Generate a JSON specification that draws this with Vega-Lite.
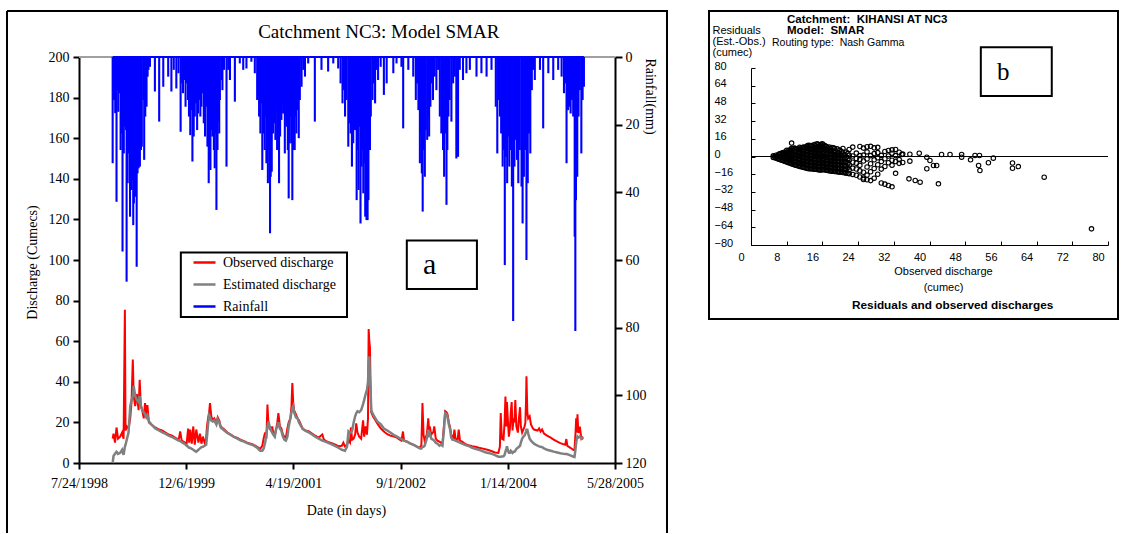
{
  "$schema": "https://vega.github.io/schema/vega-lite/v6.json",
  "background": "white",
  "padding": {"left": 6, "top": 10, "right": 0, "bottom": 0},
  "config": {
    "view": {"stroke": "black", "strokeWidth": 2},
    "axis": {"grid": false, "domainColor": "black", "tickColor": "black", "labelColor": "black", "titleColor": "black", "titleFontWeight": "normal", "labelOverlap": false, "labelFlush": false},
    "title": {"color": "black"}
  },
  "spacing": 42,
  "bounds": "flush",
  "resolve": {"scale": {"color": "independent"}, "legend": {"color": "independent"}},
  "datasets": {
    "q": [
      {"d":"1998-12-28","obs":12,"est":0},{"d":"1999-01-01","obs":14.5,"est":3.5},{"d":"1999-01-08","obs":10,"est":4.5},{"d":"1999-01-15","obs":17.5,"est":5.5},{"d":"1999-01-22","obs":12,"est":4.5},{"d":"1999-02-01","obs":13,"est":5},{"d":"1999-02-10","obs":15,"est":6.5},{"d":"1999-02-17","obs":12,"est":4},{"d":"1999-02-23","obs":75.5,"est":8},{"d":"1999-02-26","obs":16,"est":9},{"d":"1999-03-05","obs":18,"est":12},{"d":"1999-03-12","obs":17,"est":15},{"d":"1999-03-20","obs":22,"est":28},{"d":"1999-03-26","obs":30,"est":31},{"d":"1999-04-01","obs":51,"est":33},{"d":"1999-04-05","obs":33,"est":38},{"d":"1999-04-12","obs":28,"est":33},{"d":"1999-04-20","obs":34,"est":31},{"d":"1999-04-28","obs":26,"est":30},{"d":"1999-05-03","obs":41,"est":33},{"d":"1999-05-08","obs":29,"est":28},{"d":"1999-05-15","obs":26,"est":26},{"d":"1999-05-22","obs":22,"est":25},{"d":"1999-05-28","obs":29.5,"est":24},{"d":"1999-06-03","obs":24,"est":22.5},{"d":"1999-06-08","obs":28.5,"est":23.5},{"d":"1999-06-15","obs":20,"est":20.5},{"d":"1999-07-01","obs":18.5,"est":18.5},{"d":"1999-07-15","obs":17.5,"est":17},{"d":"1999-08-01","obs":16.5,"est":16},{"d":"1999-08-15","obs":16,"est":15.2},{"d":"1999-09-01","obs":15,"est":14.3},{"d":"1999-09-15","obs":14,"est":13.5},{"d":"1999-10-01","obs":13.5,"est":12.8},{"d":"1999-10-15","obs":12.5,"est":12},{"d":"1999-11-01","obs":11.5,"est":11},{"d":"1999-11-08","obs":15.5,"est":10.8},{"d":"1999-11-15","obs":11,"est":10.3},{"d":"1999-12-01","obs":10,"est":9.3},{"d":"1999-12-08","obs":9.5,"est":8.5},{"d":"1999-12-15","obs":17,"est":8},{"d":"1999-12-20","obs":10,"est":7.5},{"d":"1999-12-25","obs":16.5,"est":7.4},{"d":"2000-01-01","obs":9.5,"est":7},{"d":"2000-01-08","obs":18,"est":6.5},{"d":"2000-01-15","obs":9,"est":6},{"d":"2000-01-22","obs":16.5,"est":5.6},{"d":"2000-02-01","obs":10,"est":6.5},{"d":"2000-02-08","obs":14.5,"est":7.2},{"d":"2000-02-15","obs":9.5,"est":7.8},{"d":"2000-02-22","obs":13,"est":8},{"d":"2000-03-01","obs":10,"est":8.5},{"d":"2000-03-08","obs":12,"est":9},{"d":"2000-03-12","obs":18,"est":13},{"d":"2000-03-17","obs":22,"est":19},{"d":"2000-03-22","obs":25,"est":23.5},{"d":"2000-03-26","obs":29.5,"est":22.5},{"d":"2000-04-01","obs":23,"est":21},{"d":"2000-04-08","obs":21,"est":20.5},{"d":"2000-04-15","obs":22,"est":21},{"d":"2000-04-25","obs":20,"est":19},{"d":"2000-05-01","obs":22.5,"est":21.5},{"d":"2000-05-08","obs":21,"est":20},{"d":"2000-05-15","obs":18,"est":17.5},{"d":"2000-06-01","obs":16.5,"est":16},{"d":"2000-06-15","obs":15,"est":14.8},{"d":"2000-07-01","obs":14,"est":13.8},{"d":"2000-07-15","obs":13,"est":12.8},{"d":"2000-08-01","obs":12.3,"est":12},{"d":"2000-08-15","obs":11.5,"est":11.2},{"d":"2000-09-01","obs":10.8,"est":10.5},{"d":"2000-09-15","obs":10,"est":9.8},{"d":"2000-10-01","obs":9.5,"est":9.2},{"d":"2000-10-15","obs":9,"est":8.7},{"d":"2000-11-01","obs":8,"est":7.5},{"d":"2000-11-15","obs":7,"est":6},{"d":"2000-11-25","obs":8.5,"est":6},{"d":"2000-12-01","obs":12,"est":7},{"d":"2000-12-08","obs":15,"est":10},{"d":"2000-12-14","obs":12,"est":14},{"d":"2000-12-19","obs":28.8,"est":18},{"d":"2000-12-24","obs":18,"est":20.5},{"d":"2000-12-29","obs":17,"est":18},{"d":"2001-01-05","obs":16,"est":16},{"d":"2001-01-10","obs":18,"est":15},{"d":"2001-01-15","obs":15,"est":14},{"d":"2001-01-22","obs":13.5,"est":13},{"d":"2001-01-29","obs":17,"est":17},{"d":"2001-02-03","obs":20,"est":18},{"d":"2001-02-08","obs":24.6,"est":20},{"d":"2001-02-15","obs":18,"est":17},{"d":"2001-02-22","obs":17,"est":15.8},{"d":"2001-03-01","obs":14,"est":13},{"d":"2001-03-08","obs":13,"est":11.5},{"d":"2001-03-15","obs":12.5,"est":11},{"d":"2001-03-22","obs":17,"est":13},{"d":"2001-03-28","obs":20,"est":18},{"d":"2001-04-01","obs":21,"est":20},{"d":"2001-04-05","obs":22,"est":22},{"d":"2001-04-10","obs":28,"est":25},{"d":"2001-04-14","obs":39.4,"est":27},{"d":"2001-04-18","obs":30,"est":28},{"d":"2001-04-22","obs":26,"est":25},{"d":"2001-05-01","obs":24,"est":22.5},{"d":"2001-05-08","obs":22,"est":22},{"d":"2001-05-15","obs":21,"est":20},{"d":"2001-06-01","obs":17,"est":16.8},{"d":"2001-06-15","obs":16,"est":15.8},{"d":"2001-07-01","obs":15.5,"est":15},{"d":"2001-07-15","obs":14.5,"est":14},{"d":"2001-08-01","obs":13.3,"est":12.8},{"d":"2001-08-15","obs":12.5,"est":12},{"d":"2001-09-01","obs":14,"est":11},{"d":"2001-09-08","obs":11.5,"est":10.8},{"d":"2001-09-15","obs":11,"est":10.5},{"d":"2001-10-01","obs":10.2,"est":9.8},{"d":"2001-10-15","obs":9.7,"est":9.2},{"d":"2001-11-01","obs":9,"est":8.3},{"d":"2001-11-15","obs":8.3,"est":7.5},{"d":"2001-12-01","obs":8.5,"est":6.5},{"d":"2001-12-08","obs":10,"est":6.3},{"d":"2001-12-15","obs":8.2,"est":6},{"d":"2001-12-25","obs":9,"est":8},{"d":"2002-01-01","obs":11,"est":15.5},{"d":"2002-01-08","obs":10,"est":14.8},{"d":"2002-01-12","obs":17.5,"est":15},{"d":"2002-01-18","obs":11.5,"est":16},{"d":"2002-01-25","obs":12,"est":20},{"d":"2002-02-01","obs":14,"est":23},{"d":"2002-02-06","obs":19.5,"est":24.5},{"d":"2002-02-12","obs":15,"est":25.5},{"d":"2002-02-20","obs":13,"est":25},{"d":"2002-03-01","obs":12,"est":26},{"d":"2002-03-10","obs":21,"est":29},{"d":"2002-03-15","obs":13,"est":31},{"d":"2002-03-22","obs":18,"est":34},{"d":"2002-03-28","obs":14,"est":36},{"d":"2002-04-02","obs":22,"est":40},{"d":"2002-04-05","obs":66,"est":48},{"d":"2002-04-08","obs":60,"est":52.5},{"d":"2002-04-11","obs":57,"est":40},{"d":"2002-04-14","obs":38,"est":36},{"d":"2002-04-17","obs":25,"est":26},{"d":"2002-04-25","obs":23,"est":24},{"d":"2002-05-01","obs":22,"est":23},{"d":"2002-05-15","obs":19.5,"est":20.5},{"d":"2002-06-01","obs":17,"est":19},{"d":"2002-06-15","obs":15.5,"est":17},{"d":"2002-07-01","obs":14.2,"est":16},{"d":"2002-07-15","obs":13.5,"est":15},{"d":"2002-08-01","obs":13,"est":13.8},{"d":"2002-08-15","obs":12.5,"est":13},{"d":"2002-08-28","obs":11.5,"est":12.2},{"d":"2002-09-05","obs":11,"est":11.8},{"d":"2002-09-12","obs":15.5,"est":11.3},{"d":"2002-09-17","obs":11,"est":11},{"d":"2002-10-01","obs":10.5,"est":10.5},{"d":"2002-10-15","obs":9.7,"est":9.7},{"d":"2002-11-01","obs":8.9,"est":8.9},{"d":"2002-11-15","obs":8.2,"est":8.1},{"d":"2002-12-01","obs":7.5,"est":7.2},{"d":"2002-12-07","obs":9,"est":7.2},{"d":"2002-12-12","obs":29.6,"est":8},{"d":"2002-12-17","obs":14,"est":8},{"d":"2002-12-22","obs":11,"est":8.5},{"d":"2003-01-01","obs":14,"est":12},{"d":"2003-01-05","obs":18,"est":14},{"d":"2003-01-08","obs":22,"est":16.4},{"d":"2003-01-12","obs":16,"est":14},{"d":"2003-01-15","obs":18,"est":14.5},{"d":"2003-01-22","obs":14,"est":12},{"d":"2003-02-01","obs":15.4,"est":11.3},{"d":"2003-02-05","obs":18,"est":11},{"d":"2003-02-12","obs":12,"est":10},{"d":"2003-02-20","obs":11,"est":9.5},{"d":"2003-03-01","obs":10.5,"est":8.5},{"d":"2003-03-08","obs":10,"est":9},{"d":"2003-03-15","obs":9.5,"est":8.5},{"d":"2003-03-22","obs":18,"est":16},{"d":"2003-03-28","obs":25.5,"est":24.5},{"d":"2003-04-03","obs":25,"est":24},{"d":"2003-04-08","obs":24,"est":22.5},{"d":"2003-04-14","obs":20,"est":19},{"d":"2003-04-20","obs":17.5,"est":16.5},{"d":"2003-04-25","obs":14,"est":12.5},{"d":"2003-05-01","obs":13,"est":11.5},{"d":"2003-05-06","obs":12.5,"est":11.5},{"d":"2003-05-10","obs":16.5,"est":11.3},{"d":"2003-05-15","obs":12,"est":11},{"d":"2003-05-25","obs":11.5,"est":10.5},{"d":"2003-05-30","obs":16.5,"est":10.3},{"d":"2003-06-05","obs":11,"est":10},{"d":"2003-06-15","obs":10.5,"est":9.5},{"d":"2003-07-01","obs":9.2,"est":8.8},{"d":"2003-07-15","obs":8.8,"est":8.4},{"d":"2003-08-01","obs":8.3,"est":7.5},{"d":"2003-08-15","obs":8,"est":7},{"d":"2003-09-01","obs":7.5,"est":6.5},{"d":"2003-09-15","obs":7.2,"est":6},{"d":"2003-10-01","obs":6.8,"est":5.3},{"d":"2003-10-15","obs":6.4,"est":4.9},{"d":"2003-11-01","obs":5.8,"est":4.5},{"d":"2003-11-15","obs":5.2,"est":3.9},{"d":"2003-12-01","obs":5,"est":3.1},{"d":"2003-12-08","obs":8,"est":3.1},{"d":"2003-12-12","obs":24.6,"est":3.1},{"d":"2003-12-17","obs":12,"est":3.2},{"d":"2003-12-25","obs":11.5,"est":3.3},{"d":"2003-12-30","obs":20,"est":4},{"d":"2004-01-03","obs":32.8,"est":5.6},{"d":"2004-01-07","obs":18,"est":7},{"d":"2004-01-10","obs":30,"est":8.2},{"d":"2004-01-15","obs":20,"est":6},{"d":"2004-01-19","obs":13,"est":5},{"d":"2004-01-24","obs":17,"est":5},{"d":"2004-01-28","obs":25,"est":6},{"d":"2004-02-01","obs":30,"est":5.5},{"d":"2004-02-05","obs":16,"est":5},{"d":"2004-02-10","obs":22,"est":5.5},{"d":"2004-02-14","obs":20,"est":5.5},{"d":"2004-02-18","obs":31,"est":6},{"d":"2004-02-23","obs":18,"est":7},{"d":"2004-03-01","obs":15,"est":7.5},{"d":"2004-03-06","obs":22,"est":8},{"d":"2004-03-11","obs":27.5,"est":8.5},{"d":"2004-03-15","obs":18,"est":10},{"d":"2004-03-21","obs":15,"est":12},{"d":"2004-03-27","obs":16.5,"est":13},{"d":"2004-04-01","obs":18,"est":13.5},{"d":"2004-04-05","obs":20,"est":14.5},{"d":"2004-04-08","obs":30,"est":15.5},{"d":"2004-04-10","obs":42.7,"est":16.4},{"d":"2004-04-14","obs":25,"est":16.4},{"d":"2004-04-18","obs":22,"est":14.6},{"d":"2004-04-25","obs":23,"est":12},{"d":"2004-05-01","obs":19,"est":11},{"d":"2004-05-10","obs":17,"est":10},{"d":"2004-05-15","obs":16.5,"est":9.5},{"d":"2004-06-01","obs":16,"est":8.5},{"d":"2004-06-08","obs":17,"est":8.2},{"d":"2004-06-15","obs":15.5,"est":8},{"d":"2004-06-22","obs":16.5,"est":7.8},{"d":"2004-07-01","obs":14.5,"est":7.2},{"d":"2004-07-15","obs":13.5,"est":6.5},{"d":"2004-08-01","obs":12.5,"est":6},{"d":"2004-08-15","obs":11.5,"est":5.6},{"d":"2004-09-01","obs":10.5,"est":5.2},{"d":"2004-09-15","obs":9.8,"est":4.8},{"d":"2004-10-01","obs":9.2,"est":4.5},{"d":"2004-10-08","obs":9,"est":4.4},{"d":"2004-10-13","obs":11.8,"est":4.4},{"d":"2004-10-18","obs":8.4,"est":4.3},{"d":"2004-11-01","obs":7.5,"est":3.8},{"d":"2004-11-15","obs":6.4,"est":3.1},{"d":"2004-11-20","obs":6.5,"est":3},{"d":"2004-11-25","obs":15,"est":7},{"d":"2004-11-28","obs":22,"est":10},{"d":"2004-12-01","obs":15,"est":12},{"d":"2004-12-04","obs":24,"est":13},{"d":"2004-12-08","obs":14.8,"est":12.5},{"d":"2004-12-15","obs":17.9,"est":13},{"d":"2004-12-22","obs":12,"est":12.5},{"d":"2004-12-30","obs":13,"est":11.5}
    ],
    "rain": [
      {"d":"1998-12-28","r":31.4},{"d":"1999-01-03","r":12.7},{"d":"1999-01-09","r":16.6},{"d":"1999-01-15","r":42.8},{"d":"1999-01-20","r":9.8},{"d":"1999-01-23","r":16.2},{"d":"1999-01-28","r":10.7},{"d":"1999-02-03","r":27.5},{"d":"1999-02-07","r":22.6},{"d":"1999-02-12","r":57.5},{"d":"1999-02-18","r":28.5},{"d":"1999-02-23","r":20.6},{"d":"1999-02-28","r":21.6},{"d":"1999-03-03","r":66.4},{"d":"1999-03-08","r":37.3},{"d":"1999-03-11","r":28.5},{"d":"1999-03-15","r":23.5},{"d":"1999-03-19","r":47.2},{"d":"1999-03-23","r":32.4},{"d":"1999-03-26","r":39.3},{"d":"1999-03-31","r":36.4},{"d":"1999-04-03","r":49.7},{"d":"1999-04-06","r":43.3},{"d":"1999-04-11","r":41.3},{"d":"1999-04-15","r":35.4},{"d":"1999-04-19","r":62},{"d":"1999-04-23","r":34.4},{"d":"1999-04-28","r":32.9},{"d":"1999-05-04","r":32.4},{"d":"1999-05-09","r":27.5},{"d":"1999-05-13","r":26.5},{"d":"1999-05-20","r":12.7},{"d":"1999-05-24","r":30.4},{"d":"1999-05-29","r":17.6},{"d":"1999-06-04","r":14.7},{"d":"1999-06-09","r":5.8},{"d":"1999-06-13","r":3.8},{"d":"1999-06-20","r":2.9},
      {"d":"1999-07-13","r":10.2},{"d":"1999-08-02","r":19.1},{"d":"1999-08-21","r":8.8},{"d":"1999-09-13","r":5.8},{"d":"1999-09-28","r":10.2},{"d":"1999-10-09","r":3.8},{"d":"1999-10-21","r":9.3},{"d":"1999-10-31","r":4.8},
      {"d":"1999-11-10","r":22.1},{"d":"1999-11-17","r":7.8},{"d":"1999-11-21","r":10.7},{"d":"1999-11-27","r":6.8},{"d":"1999-12-03","r":14.7},{"d":"1999-12-10","r":7.8},{"d":"1999-12-14","r":12.7},{"d":"1999-12-19","r":17.6},{"d":"1999-12-25","r":23.1},{"d":"1999-12-30","r":15.7},{"d":"2000-01-04","r":30.9},{"d":"2000-01-10","r":23.5},{"d":"2000-01-15","r":17.6},{"d":"2000-01-21","r":13.7},{"d":"2000-01-26","r":21.6},{"d":"2000-01-30","r":16.7},{"d":"2000-02-04","r":12.7},{"d":"2000-02-10","r":17.6},{"d":"2000-02-15","r":14.7},{"d":"2000-02-19","r":10.7},{"d":"2000-02-26","r":19.6},{"d":"2000-03-03","r":23.5},{"d":"2000-03-09","r":14.7},{"d":"2000-03-14","r":26.5},{"d":"2000-03-20","r":37.3},{"d":"2000-03-25","r":30.4},{"d":"2000-03-28","r":33.4},{"d":"2000-04-02","r":21.6},{"d":"2000-04-06","r":23.5},{"d":"2000-04-13","r":27.5},{"d":"2000-04-17","r":32.9},{"d":"2000-04-22","r":22.6},{"d":"2000-04-25","r":45.2},{"d":"2000-04-30","r":27.5},{"d":"2000-05-03","r":19.1},{"d":"2000-05-08","r":22.6},{"d":"2000-05-11","r":12.7},{"d":"2000-05-19","r":6.8},{"d":"2000-05-23","r":9.8},{"d":"2000-05-30","r":3.8},{"d":"2000-06-11","r":32.4},{"d":"2000-06-19","r":3.8},{"d":"2000-06-27","r":6.8},
      {"d":"2000-07-20","r":13.2},{"d":"2000-08-12","r":1.9},{"d":"2000-08-28","r":3.8},{"d":"2000-09-12","r":3.4},{"d":"2000-10-05","r":1.4},{"d":"2000-10-21","r":4.8},
      {"d":"2000-11-01","r":12.7},{"d":"2000-11-05","r":11.2},{"d":"2000-11-10","r":17.6},{"d":"2000-11-16","r":22.6},{"d":"2000-11-21","r":13.7},{"d":"2000-11-25","r":33.4},{"d":"2000-11-30","r":22.6},{"d":"2000-12-06","r":27.5},{"d":"2000-12-11","r":17.6},{"d":"2000-12-14","r":31.4},{"d":"2000-12-18","r":22.6},{"d":"2000-12-21","r":37.3},{"d":"2000-12-26","r":27.5},{"d":"2000-12-31","r":52.1},{"d":"2001-01-03","r":35.4},{"d":"2001-01-08","r":33.9},{"d":"2001-01-14","r":22.6},{"d":"2001-01-20","r":19.6},{"d":"2001-01-25","r":24.5},{"d":"2001-01-30","r":15.7},{"d":"2001-02-02","r":27.5},{"d":"2001-02-06","r":21.6},{"d":"2001-02-11","r":37.3},{"d":"2001-02-16","r":23.5},{"d":"2001-02-22","r":18.6},{"d":"2001-02-27","r":13.7},{"d":"2001-03-02","r":16.7},{"d":"2001-03-10","r":28.5},{"d":"2001-03-14","r":17.6},{"d":"2001-03-17","r":20.6},{"d":"2001-03-24","r":27.5},{"d":"2001-03-28","r":41.8},{"d":"2001-04-02","r":25.5},{"d":"2001-04-05","r":17.6},{"d":"2001-04-10","r":25.5},{"d":"2001-04-14","r":42.3},{"d":"2001-04-19","r":27.5},{"d":"2001-04-25","r":27.5},{"d":"2001-04-30","r":17.6},{"d":"2001-05-03","r":22.6},{"d":"2001-05-09","r":15.7},{"d":"2001-05-14","r":24},{"d":"2001-05-19","r":12.7},{"d":"2001-05-27","r":8.8},{"d":"2001-06-04","r":3.8},{"d":"2001-06-12","r":5.8},
      {"d":"2001-06-27","r":1.9},{"d":"2001-07-28","r":19.1},{"d":"2001-08-28","r":3.8},{"d":"2001-09-28","r":4.3},{"d":"2001-10-22","r":1.9},{"d":"2001-11-14","r":3.4},
      {"d":"2001-11-25","r":7.8},{"d":"2001-12-04","r":13.7},{"d":"2001-12-10","r":9.8},{"d":"2001-12-16","r":17.6},{"d":"2001-12-23","r":12.7},{"d":"2001-12-31","r":26.5},{"d":"2002-01-04","r":19.6},{"d":"2002-01-11","r":22.6},{"d":"2002-01-17","r":32.4},{"d":"2002-01-23","r":25.5},{"d":"2002-01-31","r":21.6},{"d":"2002-02-08","r":42.3},{"d":"2002-02-13","r":27.5},{"d":"2002-02-17","r":39.3},{"d":"2002-02-22","r":20.6},{"d":"2002-02-26","r":49.2},{"d":"2002-03-03","r":32.4},{"d":"2002-03-08","r":27.5},{"d":"2002-03-11","r":40.3},{"d":"2002-03-15","r":31.4},{"d":"2002-03-20","r":47.2},{"d":"2002-03-26","r":48.2},{"d":"2002-03-31","r":48.2},{"d":"2002-04-04","r":42.3},{"d":"2002-04-11","r":27.5},{"d":"2002-04-15","r":17.6},{"d":"2002-04-23","r":12.7},{"d":"2002-04-29","r":7.8},{"d":"2002-05-05","r":13.7},{"d":"2002-05-11","r":3.8},{"d":"2002-05-19","r":6.8},{"d":"2002-05-31","r":2.9},{"d":"2002-06-15","r":11.2},{"d":"2002-06-28","r":7.8},
      {"d":"2002-07-29","r":4.8},{"d":"2002-08-13","r":1.9},{"d":"2002-09-05","r":2.9},{"d":"2002-09-13","r":21.1},{"d":"2002-10-07","r":3.8},{"d":"2002-10-30","r":5.8},
      {"d":"2002-11-11","r":12.7},{"d":"2002-11-17","r":7.8},{"d":"2002-11-23","r":15.7},{"d":"2002-11-30","r":31.4},{"d":"2002-12-04","r":22.6},{"d":"2002-12-09","r":34.4},{"d":"2002-12-13","r":45.7},{"d":"2002-12-18","r":27.5},{"d":"2002-12-23","r":35.4},{"d":"2002-12-27","r":21.6},{"d":"2003-01-03","r":24.5},{"d":"2003-01-07","r":17.6},{"d":"2003-01-12","r":23.5},{"d":"2003-01-18","r":14.7},{"d":"2003-01-24","r":7.8},{"d":"2003-01-30","r":12.7},{"d":"2003-02-07","r":5.8},{"d":"2003-02-15","r":9.8},{"d":"2003-02-23","r":3.8},{"d":"2003-03-03","r":17.6},{"d":"2003-03-10","r":22.6},{"d":"2003-03-18","r":27.5},{"d":"2003-03-23","r":35.4},{"d":"2003-03-27","r":22.6},{"d":"2003-04-03","r":43.7},{"d":"2003-04-07","r":27.5},{"d":"2003-04-12","r":17.6},{"d":"2003-04-18","r":12.7},{"d":"2003-04-26","r":19.1},{"d":"2003-05-04","r":7.8},{"d":"2003-05-12","r":5.8},{"d":"2003-05-19","r":30},{"d":"2003-05-27","r":29.5},{"d":"2003-06-04","r":3.8},{"d":"2003-06-19","r":6.8},
      {"d":"2003-07-05","r":4.8},{"d":"2003-07-21","r":3.8},{"d":"2003-08-21","r":5.8},{"d":"2003-09-13","r":4.8},{"d":"2003-10-07","r":5.8},{"d":"2003-10-30","r":3.8},
      {"d":"2003-11-19","r":14.7},{"d":"2003-11-26","r":28.5},{"d":"2003-12-02","r":12.7},{"d":"2003-12-08","r":17.6},{"d":"2003-12-14","r":22.6},{"d":"2003-12-21","r":32.4},{"d":"2003-12-27","r":27.5},{"d":"2003-12-31","r":61.5},{"d":"2004-01-05","r":29.5},{"d":"2004-01-11","r":37.3},{"d":"2004-01-16","r":23.5},{"d":"2004-01-21","r":32.4},{"d":"2004-01-27","r":27.5},{"d":"2004-02-02","r":38.3},{"d":"2004-02-08","r":78},{"d":"2004-02-14","r":32.4},{"d":"2004-02-20","r":24.5},{"d":"2004-02-26","r":30.4},{"d":"2004-03-03","r":37.3},{"d":"2004-03-10","r":27.5},{"d":"2004-03-18","r":38.3},{"d":"2004-03-23","r":49.2},{"d":"2004-03-29","r":35.4},{"d":"2004-04-04","r":27.5},{"d":"2004-04-10","r":60},{"d":"2004-04-16","r":37.3},{"d":"2004-04-22","r":22.6},{"d":"2004-04-28","r":28.5},{"d":"2004-05-05","r":9.8},{"d":"2004-05-11","r":3.8},{"d":"2004-05-19","r":6.8},
      {"d":"2004-06-12","r":3.8},{"d":"2004-06-27","r":21.1},{"d":"2004-07-21","r":4.8},{"d":"2004-08-13","r":6.8},{"d":"2004-09-05","r":3.8},{"d":"2004-09-21","r":5.8},
      {"d":"2004-10-02","r":10.7},{"d":"2004-10-08","r":7.8},{"d":"2004-10-14","r":31.4},{"d":"2004-10-21","r":15.7},{"d":"2004-10-27","r":14.7},{"d":"2004-11-02","r":16.7},{"d":"2004-11-08","r":12.7},{"d":"2004-11-14","r":17.6},{"d":"2004-11-21","r":53.1},{"d":"2004-11-24","r":81},{"d":"2004-11-27","r":42.3},{"d":"2004-12-03","r":35.4},{"d":"2004-12-09","r":17.6},{"d":"2004-12-15","r":9.8},{"d":"2004-12-22","r":28.5},{"d":"2004-12-28","r":12.7},{"d":"2005-01-03","r":8.8}
    ],
    "res": [
      {"obs":5.0,"res":-0.8},{"obs":5.0,"res":0.6},{"obs":5.6,"res":-1.5},{"obs":5.6,"res":1.2},{"obs":6.2,"res":-2.4},{"obs":6.2,"res":0.3},{"obs":6.2,"res":2.1},{"obs":6.8,"res":-3.1},{"obs":6.8,"res":-0.6},{"obs":6.8,"res":2.8},{"obs":7.4,"res":-4.0},{"obs":7.4,"res":-1.2},{"obs":7.4,"res":1.5},{"obs":7.4,"res":3.9},{"obs":8.0,"res":-4.9},{"obs":8.0,"res":-2.2},{"obs":8.0,"res":0.8},{"obs":8.0,"res":3.6},{"obs":8.0,"res":5.7},{"obs":8.6,"res":-5.8},{"obs":8.6,"res":-3.0},{"obs":8.6,"res":-0.1},{"obs":8.6,"res":2.7},{"obs":8.6,"res":5.9},{"obs":9.1,"res":12.1},{"obs":9.1,"res":-6.6},{"obs":9.1,"res":-3.6},{"obs":9.1,"res":-0.9},{"obs":9.1,"res":2.2},{"obs":9.1,"res":5.2},{"obs":9.1,"res":7.4},{"obs":9.7,"res":-7.4},{"obs":9.7,"res":-4.3},{"obs":9.7,"res":-1.5},{"obs":9.7,"res":1.6},{"obs":9.7,"res":4.6},{"obs":9.7,"res":7.6},{"obs":10.3,"res":-8.1},{"obs":10.3,"res":-5.2},{"obs":10.3,"res":-2.1},{"obs":10.3,"res":0.9},{"obs":10.3,"res":3.8},{"obs":10.3,"res":6.9},{"obs":10.9,"res":-8.9},{"obs":10.9,"res":-6.0},{"obs":10.9,"res":-3.0},{"obs":10.9,"res":0.2},{"obs":10.9,"res":3.1},{"obs":10.9,"res":6.2},{"obs":10.9,"res":8.4},{"obs":11.5,"res":-9.4},{"obs":11.5,"res":-6.4},{"obs":11.5,"res":-3.5},{"obs":11.5,"res":-0.4},{"obs":11.5,"res":2.6},{"obs":11.5,"res":5.5},{"obs":11.5,"res":8.2},{"obs":12.1,"res":-10.2},{"obs":12.1,"res":-7.1},{"obs":12.1,"res":-4.2},{"obs":12.1,"res":-1.2},{"obs":12.1,"res":1.9},{"obs":12.1,"res":4.8},{"obs":12.1,"res":7.9},{"obs":12.7,"res":-10.8},{"obs":12.7,"res":-7.7},{"obs":12.7,"res":-4.6},{"obs":12.7,"res":-1.6},{"obs":12.7,"res":1.4},{"obs":12.7,"res":4.5},{"obs":12.7,"res":7.4},{"obs":12.7,"res":9.8},{"obs":13.3,"res":-11.0},{"obs":13.3,"res":-8.2},{"obs":13.3,"res":-5.0},{"obs":13.3,"res":-2.1},{"obs":13.3,"res":1.0},{"obs":13.3,"res":3.9},{"obs":13.3,"res":6.8},{"obs":13.3,"res":9.6},{"obs":13.9,"res":-11.3},{"obs":13.9,"res":-8.4},{"obs":13.9,"res":-5.5},{"obs":13.9,"res":-2.5},{"obs":13.9,"res":0.6},{"obs":13.9,"res":3.5},{"obs":13.9,"res":6.6},{"obs":13.9,"res":9.4},{"obs":14.5,"res":-11.6},{"obs":14.5,"res":-8.8},{"obs":14.5,"res":-5.8},{"obs":14.5,"res":-2.8},{"obs":14.5,"res":0.3},{"obs":14.5,"res":3.2},{"obs":14.5,"res":6.1},{"obs":14.5,"res":9.7},{"obs":15.1,"res":-12.0},{"obs":15.1,"res":-9.0},{"obs":15.1,"res":-6.1},{"obs":15.1,"res":-3.0},{"obs":15.1,"res":0.1},{"obs":15.1,"res":2.9},{"obs":15.1,"res":5.9},{"obs":15.1,"res":8.7},{"obs":15.1,"res":10.8},{"obs":15.7,"res":-12.2},{"obs":15.7,"res":-9.3},{"obs":15.7,"res":-6.4},{"obs":15.7,"res":-3.3},{"obs":15.7,"res":-0.2},{"obs":15.7,"res":2.7},{"obs":15.7,"res":5.6},{"obs":15.7,"res":8.5},{"obs":15.7,"res":11.0},{"obs":16.3,"res":-11.8},{"obs":16.3,"res":-8.7},{"obs":16.3,"res":-5.7},{"obs":16.3,"res":-2.6},{"obs":16.3,"res":0.4},{"obs":16.3,"res":3.5},{"obs":16.3,"res":7.8},{"obs":16.3,"res":10.4},{"obs":16.9,"res":-12.5},{"obs":16.9,"res":-9.6},{"obs":16.9,"res":-6.6},{"obs":16.9,"res":-3.4},{"obs":16.9,"res":-0.3},{"obs":16.9,"res":2.8},{"obs":16.9,"res":6.0},{"obs":16.9,"res":9.1},{"obs":17.5,"res":-12.9},{"obs":17.5,"res":-9.9},{"obs":17.5,"res":-6.8},{"obs":17.5,"res":-3.8},{"obs":17.5,"res":-0.6},{"obs":17.5,"res":2.4},{"obs":17.5,"res":5.4},{"obs":17.5,"res":8.6},{"obs":18.1,"res":-13.2},{"obs":18.1,"res":-10.1},{"obs":18.1,"res":-7.0},{"obs":18.1,"res":-4.0},{"obs":18.1,"res":-1.1},{"obs":18.1,"res":2.0},{"obs":18.1,"res":4.9},{"obs":18.1,"res":8.2},{"obs":18.7,"res":-13.5},{"obs":18.7,"res":-10.4},{"obs":18.7,"res":-7.4},{"obs":18.7,"res":-4.3},{"obs":18.7,"res":-1.4},{"obs":18.7,"res":1.6},{"obs":18.7,"res":7.5},{"obs":19.3,"res":-13.8},{"obs":19.3,"res":-10.6},{"obs":19.3,"res":-7.6},{"obs":19.3,"res":-4.4},{"obs":19.3,"res":-1.5},{"obs":19.3,"res":1.3},{"obs":19.3,"res":6.9},{"obs":19.9,"res":-14.1},{"obs":19.9,"res":-11.0},{"obs":19.9,"res":-7.8},{"obs":19.9,"res":-4.8},{"obs":19.9,"res":-1.7},{"obs":19.9,"res":0.9},{"obs":19.9,"res":5.8},{"obs":20.6,"res":-14.5},{"obs":20.6,"res":-11.5},{"obs":20.6,"res":-8.2},{"obs":20.6,"res":-5.0},{"obs":20.6,"res":-2.0},{"obs":20.6,"res":2.3},{"obs":20.6,"res":7.2},{"obs":21.3,"res":-15.0},{"obs":21.3,"res":-11.8},{"obs":21.3,"res":-8.5},{"obs":21.3,"res":-4.5},{"obs":21.3,"res":-1.0},{"obs":21.3,"res":4.0},{"obs":22.0,"res":-15.5},{"obs":22.0,"res":-12.0},{"obs":22.0,"res":-7.6},{"obs":22.0,"res":-3.4},{"obs":22.0,"res":1.2},{"obs":22.0,"res":6.4},{"obs":22.8,"res":-16.2},{"obs":22.8,"res":-10.5},{"obs":22.8,"res":-5.2},{"obs":22.8,"res":0.5},{"obs":22.8,"res":8.5},{"obs":23.6,"res":-17.0},{"obs":23.6,"res":-11.3},{"obs":23.6,"res":-6.0},{"obs":23.6,"res":-1.8},{"obs":23.6,"res":3.1},{"obs":24.4,"res":-18.5},{"obs":24.4,"res":-13.0},{"obs":24.4,"res":-8.0},{"obs":24.4,"res":-2.6},{"obs":24.4,"res":0.8},{"obs":24.4,"res":9.0},{"obs":25.2,"res":-19.5},{"obs":25.2,"res":-20.8},{"obs":25.2,"res":-14.2},{"obs":25.2,"res":-4.1},{"obs":25.2,"res":1.3},{"obs":25.2,"res":7.6},{"obs":26.0,"res":-21.0},{"obs":26.0,"res":-16.8},{"obs":26.0,"res":-9.5},{"obs":26.0,"res":-2.2},{"obs":26.0,"res":4.2},{"obs":26.0,"res":8.8},{"obs":26.8,"res":-21.8},{"obs":26.8,"res":-13.8},{"obs":26.8,"res":-6.5},{"obs":26.8,"res":0.8},{"obs":26.8,"res":9.2},{"obs":27.6,"res":-19.6},{"obs":27.6,"res":-10.8},{"obs":27.6,"res":-3.0},{"obs":27.6,"res":2.6},{"obs":27.6,"res":7.8},{"obs":28.4,"res":-16.0},{"obs":28.4,"res":-7.5},{"obs":28.4,"res":-1.2},{"obs":28.4,"res":3.5},{"obs":28.4,"res":8.3},{"obs":29.2,"res":-24.0},{"obs":29.2,"res":-11.4},{"obs":29.2,"res":-4.6},{"obs":29.2,"res":1.0},{"obs":30.0,"res":-25.0},{"obs":30.0,"res":-9.0},{"obs":30.0,"res":-2.0},{"obs":30.0,"res":4.6},{"obs":30.8,"res":-26.2},{"obs":30.8,"res":-5.6},{"obs":30.8,"res":0.5},{"obs":30.8,"res":5.5},{"obs":31.6,"res":-27.4},{"obs":31.6,"res":-7.8},{"obs":31.6,"res":-3.4},{"obs":31.6,"res":3.0},{"obs":31.6,"res":6.0},{"obs":32.4,"res":-15.2},{"obs":32.4,"res":-4.5},{"obs":32.4,"res":0.8},{"obs":32.4,"res":6.4},{"obs":33.2,"res":-6.2},{"obs":33.2,"res":-2.8},{"obs":33.2,"res":3.8},{"obs":34.0,"res":-5.4},{"obs":34.0,"res":2.2},
      {"obs":5.3,"res":-0.2},{"obs":5.9,"res":-1.9},{"obs":5.9,"res":0.6},{"obs":6.5,"res":-2.8},{"obs":6.5,"res":-0.2},{"obs":6.5,"res":2.4},{"obs":7.1,"res":-3.6},{"obs":7.1,"res":-1.0},{"obs":7.1,"res":1.6},{"obs":7.1,"res":3.4},{"obs":7.7,"res":-4.5},{"obs":7.7,"res":-1.8},{"obs":7.7,"res":0.9},{"obs":7.7,"res":3.3},{"obs":8.3,"res":-5.4},{"obs":8.3,"res":-2.6},{"obs":8.3,"res":0.3},{"obs":8.3,"res":3.2},{"obs":8.3,"res":5.1},{"obs":8.9,"res":-6.2},{"obs":8.9,"res":-3.3},{"obs":8.9,"res":-0.4},{"obs":8.9,"res":2.4},{"obs":8.9,"res":5.4},{"obs":9.4,"res":-7.0},{"obs":9.4,"res":-4.1},{"obs":9.4,"res":-1.2},{"obs":9.4,"res":1.7},{"obs":9.4,"res":4.7},{"obs":9.4,"res":6.9},{"obs":10.0,"res":-7.8},{"obs":10.0,"res":-4.8},{"obs":10.0,"res":-1.8},{"obs":10.0,"res":1.2},{"obs":10.0,"res":4.2},{"obs":10.0,"res":7.2},{"obs":10.6,"res":-8.5},{"obs":10.6,"res":-5.6},{"obs":10.6,"res":-2.5},{"obs":10.6,"res":0.5},{"obs":10.6,"res":3.5},{"obs":10.6,"res":6.6},{"obs":11.2,"res":-9.2},{"obs":11.2,"res":-6.2},{"obs":11.2,"res":-3.2},{"obs":11.2,"res":-0.2},{"obs":11.2,"res":2.9},{"obs":11.2,"res":5.8},{"obs":11.2,"res":7.9},{"obs":11.8,"res":-9.8},{"obs":11.8,"res":-6.8},{"obs":11.8,"res":-3.9},{"obs":11.8,"res":-0.8},{"obs":11.8,"res":2.2},{"obs":11.8,"res":5.2},{"obs":11.8,"res":8.5},{"obs":12.4,"res":-10.5},{"obs":12.4,"res":-7.4},{"obs":12.4,"res":-4.4},{"obs":12.4,"res":-1.4},{"obs":12.4,"res":1.6},{"obs":12.4,"res":4.6},{"obs":12.4,"res":7.6},{"obs":12.4,"res":9.1},{"obs":13.0,"res":-11.0},{"obs":13.0,"res":-7.9},{"obs":13.0,"res":-4.8},{"obs":13.0,"res":-1.8},{"obs":13.0,"res":1.2},{"obs":13.0,"res":4.2},{"obs":13.0,"res":7.1},{"obs":13.0,"res":10.2},{"obs":13.6,"res":-11.1},{"obs":13.6,"res":-8.3},{"obs":13.6,"res":-5.2},{"obs":13.6,"res":-2.3},{"obs":13.6,"res":0.8},{"obs":13.6,"res":3.7},{"obs":13.6,"res":6.7},{"obs":13.6,"res":9.9},{"obs":14.2,"res":-11.5},{"obs":14.2,"res":-8.6},{"obs":14.2,"res":-5.7},{"obs":14.2,"res":-2.7},{"obs":14.2,"res":0.4},{"obs":14.2,"res":3.4},{"obs":14.2,"res":6.3},{"obs":14.2,"res":8.2},{"obs":14.2,"res":10.8},{"obs":14.8,"res":-11.8},{"obs":14.8,"res":-8.9},{"obs":14.8,"res":-5.9},{"obs":14.8,"res":-2.9},{"obs":14.8,"res":0.2},{"obs":14.8,"res":3.0},{"obs":14.8,"res":6.0},{"obs":14.8,"res":8.0},{"obs":14.8,"res":11.4},{"obs":15.4,"res":-12.1},{"obs":15.4,"res":-9.2},{"obs":15.4,"res":-6.2},{"obs":15.4,"res":-3.2},{"obs":15.4,"res":-0.1},{"obs":15.4,"res":2.8},{"obs":15.4,"res":5.7},{"obs":15.4,"res":8.9},{"obs":15.4,"res":10.0},{"obs":16.0,"res":-12.0},{"obs":16.0,"res":-9.0},{"obs":16.0,"res":-6.0},{"obs":16.0,"res":-3.0},{"obs":16.0,"res":0.0},{"obs":16.0,"res":3.1},{"obs":16.0,"res":6.3},{"obs":16.0,"res":9.2},{"obs":16.0,"res":11.6},{"obs":16.6,"res":-12.2},{"obs":16.6,"res":-9.2},{"obs":16.6,"res":-6.2},{"obs":16.6,"res":-3.0},{"obs":16.6,"res":0.0},{"obs":16.6,"res":3.2},{"obs":16.6,"res":6.5},{"obs":16.6,"res":9.6},{"obs":17.2,"res":-12.7},{"obs":17.2,"res":-9.7},{"obs":17.2,"res":-6.7},{"obs":17.2,"res":-3.6},{"obs":17.2,"res":-0.5},{"obs":17.2,"res":2.6},{"obs":17.2,"res":5.7},{"obs":17.2,"res":7.9},{"obs":17.8,"res":-13.0},{"obs":17.8,"res":-10.0},{"obs":17.8,"res":-6.9},{"obs":17.8,"res":-3.9},{"obs":17.8,"res":-0.9},{"obs":17.8,"res":2.2},{"obs":17.8,"res":5.2},{"obs":17.8,"res":7.0},{"obs":18.4,"res":-13.3},{"obs":18.4,"res":-10.2},{"obs":18.4,"res":-7.2},{"obs":18.4,"res":-4.1},{"obs":18.4,"res":-1.2},{"obs":18.4,"res":1.8},{"obs":18.4,"res":4.4},{"obs":18.4,"res":7.9},{"obs":19.0,"res":-13.6},{"obs":19.0,"res":-10.5},{"obs":19.0,"res":-7.5},{"obs":19.0,"res":-4.4},{"obs":19.0,"res":-1.4},{"obs":19.0,"res":1.5},{"obs":19.0,"res":4.1},{"obs":19.6,"res":-14.0},{"obs":19.6,"res":-10.8},{"obs":19.6,"res":-7.7},{"obs":19.6,"res":-4.6},{"obs":19.6,"res":-1.6},{"obs":19.6,"res":1.1},{"obs":19.6,"res":3.5},{"obs":20.3,"res":-14.3},{"obs":20.3,"res":-11.2},{"obs":20.3,"res":-8.0},{"obs":20.3,"res":-4.9},{"obs":20.3,"res":-1.8},{"obs":20.3,"res":1.0},{"obs":20.3,"res":4.6},{"obs":21.0,"res":-14.8},{"obs":21.0,"res":-11.6},{"obs":21.0,"res":-8.3},{"obs":21.0,"res":-5.2},{"obs":21.0,"res":-2.2},{"obs":21.0,"res":1.8},{"obs":21.7,"res":-15.2},{"obs":21.7,"res":-10.0},{"obs":21.7,"res":-6.0},{"obs":21.7,"res":-2.1},{"obs":21.7,"res":2.8},
      {"obs":33.8,"res":1.8},{"obs":35.6,"res":2.0},{"obs":35.6,"res":-4.2},{"obs":35.4,"res":-20.2},{"obs":36.8,"res":-21.7},{"obs":37.9,"res":-23.2},{"obs":37.7,"res":3.0},{"obs":39.4,"res":-0.6},{"obs":40.1,"res":-3.6},{"obs":39.4,"res":-11.1},{"obs":40.9,"res":-8.1},{"obs":41.6,"res":-8.1},{"obs":42.0,"res":-24.7},{"obs":42.7,"res":1.8},{"obs":44.6,"res":1.8},{"obs":47.2,"res":1.8},{"obs":47.2,"res":-0.6},{"obs":49.2,"res":-3.0},{"obs":50.2,"res":0.9},{"obs":51.2,"res":0.9},{"obs":51.0,"res":-8.1},{"obs":51.3,"res":-12.7},{"obs":53.2,"res":-5.7},{"obs":54.3,"res":-1.5},{"obs":58.6,"res":-5.9},{"obs":58.6,"res":-10.6},{"obs":59.9,"res":-9.1},{"obs":65.7,"res":-18.7},{"obs":76.3,"res":-65.4}
    ]
  },
  "hconcat": [
    {
      "width": 660,
      "height": 522,
      "view": {"stroke": "black", "strokeWidth": 2, "strokeDash": [1182, 660, 522, 0]},
      "layer": [
        {
          "layer": [
            {
              "data": {"values": [{}]},
              "mark": {"type": "rule", "color": "#a0a0a0", "strokeWidth": 2},
              "encoding": {
                "x": {"datum": {"year": 1998, "month": 7, "date": 24, "utc": true}, "type": "temporal"},
                "x2": {"datum": {"year": 2005, "month": 5, "date": 28, "utc": true}},
                "y": {"datum": 200, "type": "quantitative"}
              }
            },
            {
              "data": {"values": [{}]},
              "mark": {"type": "rect", "fill": "white", "stroke": "black", "strokeWidth": 2},
              "encoding": {
                "x": {"datum": {"year": 1999, "month": 11, "date": 11, "utc": true}, "type": "temporal"},
                "x2": {"datum": {"year": 2001, "month": 12, "date": 25, "utc": true}},
                "y": {"datum": 103.7, "type": "quantitative"},
                "y2": {"datum": 71.9}
              }
            },
            {
              "data": {"name": "q"},
              "mark": {"type": "line", "strokeWidth": 2},
              "encoding": {
                "x": {
                  "field": "d", "type": "temporal",
                  "scale": {"type": "utc", "domain": [{"year": 1998, "month": 7, "date": 24, "utc": true}, {"year": 2005, "month": 5, "date": 28, "utc": true}], "range": [72, 608], "nice": false},
                  "axis": {
                    "orient": "bottom", "offset": -70,
                    "values": [{"year": 1998, "month": 7, "date": 24, "utc": true}, {"year": 1999, "month": 12, "date": 6, "utc": true}, {"year": 2001, "month": 4, "date": 19, "utc": true}, {"year": 2002, "month": 9, "date": 1, "utc": true}, {"year": 2004, "month": 1, "date": 14, "utc": true}, {"year": 2005, "month": 5, "date": 28, "utc": true}],
                    "tickCount": 20,
                    "labelExpr": "utcFormat(datum.value, '%-m/%-d/%Y')",
                    "labelOverlap": false,
                    "labelFont": "Liberation Serif", "labelFontSize": 14, "labelPadding": 7,
                    "tickSize": 6, "tickWidth": 2, "domainWidth": 2,
                    "title": "Date (in days)", "titleFont": "Liberation Serif", "titleFontSize": 14,
                    "titleX": 339, "titleY": 47, "titleAlign": "center", "titleBaseline": "middle"
                  }
                },
                "y": {
                  "field": "obs", "type": "quantitative",
                  "scale": {"domain": [0, 200], "range": [452, 46], "nice": false},
                  "axis": {
                    "orient": "left", "offset": -72,
                    "values": [0, 20, 40, 60, 80, 100, 120, 140, 160, 180, 200],
                    "tickCount": 20,
                    "labelOverlap": false,
                    "labelFont": "Liberation Serif", "labelFontSize": 14, "labelPadding": 4,
                    "tickSize": 6, "tickWidth": 2, "domainWidth": 2,
                    "title": "Discharge (Cumecs)", "titleFont": "Liberation Serif", "titleFontSize": 14,
                    "titleAngle": -90, "titleX": -47, "titleY": 251, "titleAlign": "center", "titleBaseline": "middle"
                  }
                },
                "color": {
                  "datum": "Observed discharge",
                  "scale": {"domain": ["Observed discharge", "Estimated discharge", "Rainfall"], "range": ["#ff0000", "#808080", "#0000ff"]},
                  "legend": {
                    "orient": "none", "legendX": 176, "legendY": 239, "title": null,
                    "symbolType": "stroke", "symbolSize": 484, "symbolStrokeWidth": 2.5,
                    "labelFont": "Liberation Serif", "labelFontSize": 14, "labelColor": "black",
                    "padding": 0, "symbolOffset": 9, "labelOffset": 6, "rowPadding": 2
                  }
                }
              }
            },
            {
              "data": {"name": "q"},
              "mark": {"type": "line", "strokeWidth": 2.5},
              "encoding": {
                "x": {"field": "d", "type": "temporal"},
                "y": {"field": "est", "type": "quantitative"},
                "color": {"datum": "Estimated discharge"}
              }
            },
            {
              "data": {"values": [{}]},
              "mark": {"type": "rect", "fill": "white", "stroke": "black", "strokeWidth": 2},
              "encoding": {
                "x": {"datum": {"year": 2002, "month": 9, "date": 30, "utc": true}, "type": "temporal"},
                "x2": {"datum": {"year": 2003, "month": 8, "date": 23, "utc": true}},
                "y": {"datum": 109.6, "type": "quantitative"},
                "y2": {"datum": 85.7}
              }
            },
            {
              "data": {"values": [{}]},
              "mark": {"type": "text", "text": "a", "font": "Liberation Serif", "fontSize": 30, "align": "center", "baseline": "middle", "color": "black"},
              "encoding": {
                "x": {"datum": {"year": 2003, "month": 1, "date": 14, "utc": true}, "type": "temporal"},
                "y": {"datum": 97.5, "type": "quantitative"}
              }
            },
            {
              "data": {"values": [{}]},
              "mark": {"type": "text", "text": "Catchment NC3: Model SMAR", "font": "Liberation Serif", "fontSize": 19, "align": "center", "baseline": "alphabetic", "color": "black"},
              "encoding": {
                "x": {"datum": {"year": 2002, "month": 5, "date": 22, "utc": true}, "type": "temporal"},
                "y": {"datum": 209.4, "type": "quantitative"}
              }
            }
          ]
        },
        {
          "data": {"name": "rain"},
          "layer": [
            {
              "mark": {"type": "rule", "strokeWidth": 2.1},
              "encoding": {
                "x": {"field": "d", "type": "temporal"},
                "y": {
                  "field": "r", "type": "quantitative",
                  "scale": {"domain": [0, 120], "range": [46, 452], "nice": false},
                  "axis": {
                    "orient": "right", "offset": -52,
                    "values": [0, 20, 40, 60, 80, 100, 120],
                    "tickCount": 20,
                    "labelOverlap": false,
                    "labelFont": "Liberation Serif", "labelFontSize": 14, "labelPadding": 3,
                    "tickSize": 7, "tickWidth": 2, "domainWidth": 2,
                    "title": "Rainfall(mm)", "titleFont": "Liberation Serif", "titleFontSize": 14,
                    "titleAngle": 90, "titleX": 34, "titleY": 85, "titleAlign": "center", "titleBaseline": "middle"
                  }
                },
                "y2": {"datum": 0},
                "color": {"datum": "Rainfall"}
              }
            },
            {
              "mark": {"type": "rule", "strokeWidth": 2},
              "encoding": {
                "x": {"aggregate": "min", "field": "d", "type": "temporal"},
                "x2": {"aggregate": "max", "field": "d"},
                "y": {"datum": 0, "type": "quantitative"},
                "color": {"datum": "Rainfall"}
              }
            }
          ]
        }
      ],
      "resolve": {"scale": {"y": "independent"}, "axis": {"y": "independent"}}
    },
    {
      "width": 409,
      "height": 308,
      "title": {"text": "Residuals and observed discharges", "orient": "bottom", "anchor": "start", "frame": "group", "offset": 0, "dx": 143, "dy": -14, "baseline": "middle", "font": "Liberation Sans", "fontSize": 11.8, "fontWeight": "bold", "color": "black"},
      "layer": [
        {
          "data": {"name": "res"},
          "mark": {"type": "point", "shape": "circle", "filled": false, "size": 20, "strokeWidth": 1.1, "color": "black", "opacity": 1},
          "encoding": {
            "x": {
              "field": "obs", "type": "quantitative",
              "scale": {"domain": [0, 80], "range": [42, 399], "nice": false, "zero": false},
              "axis": {
                "orient": "bottom", "offset": -74,
                "values": [0, 8, 16, 24, 32, 40, 48, 56, 64, 72, 80],
                "tickCount": 20,
                "labelOverlap": false,
                "labelFont": "Liberation Sans", "labelFontSize": 11, "labelOffset": -10, "labelPadding": 10, "labelBaseline": "top",
                "tickSize": -4, "tickWidth": 1, "domainWidth": 1,
                "title": ["Observed discharge", "(cumec)"], "titleFont": "Liberation Sans", "titleFontSize": 11,
                "titleX": 234, "titleY": 20, "titleAlign": "center", "titleBaseline": "top", "titleLineHeight": 16
              }
            },
            "y": {
              "field": "res", "type": "quantitative",
              "scale": {"domain": [-80, 80], "range": [234, 57], "nice": false},
              "axis": {
                "orient": "left", "offset": -42,
                "values": [-80, -64, -48, -32, -16, 0, 16, 32, 48, 64, 80],
                "tickCount": 20,
                "labelOverlap": false,
                "labelFont": "Liberation Sans", "labelFontSize": 11, "labelAlign": "left", "labelBaseline": "middle", "labelPadding": 41, "labelOffset": -2,
                "tickSize": -4, "tickWidth": 1, "domainWidth": 1,
                "title": ["Residuals", "(Est.-Obs.)", "(cumec)"], "titleFont": "Liberation Sans", "titleFontSize": 11,
                "titleAngle": 0, "titleAlign": "left", "titleBaseline": "top", "titleX": -39, "titleY": 13, "titleLineHeight": 11
              }
            }
          }
        },
        {
          "data": {"values": [{}]},
          "mark": {"type": "rule", "color": "black", "strokeWidth": 1},
          "encoding": {
            "x": {"datum": 0, "type": "quantitative"},
            "x2": {"datum": 80},
            "y": {"datum": 0, "type": "quantitative"}
          }
        },
        {
          "data": {"values": [{}]},
          "mark": {"type": "rect", "fill": "white", "stroke": "black", "strokeWidth": 2},
          "encoding": {
            "x": {"datum": 51.5, "type": "quantitative"},
            "x2": {"datum": 67.4},
            "y": {"datum": 98.7, "type": "quantitative"},
            "y2": {"datum": 54.7}
          }
        },
        {
          "data": {"values": [{}]},
          "mark": {"type": "text", "text": "b", "font": "Liberation Serif", "fontSize": 25, "align": "center", "baseline": "middle", "color": "black"},
          "encoding": {"x": {"datum": 56.5, "type": "quantitative"}, "y": {"datum": 76.7, "type": "quantitative"}}
        },
        {
          "data": {"values": [{}]},
          "mark": {"type": "text", "text": "Catchment:\u00a0 KIHANSI AT NC3", "font": "Liberation Sans", "fontSize": 11.5, "fontWeight": "bold", "align": "left", "baseline": "middle", "color": "black"},
          "encoding": {"x": {"datum": 8.07, "type": "quantitative"}, "y": {"datum": 123.4, "type": "quantitative"}}
        },
        {
          "data": {"values": [{}]},
          "mark": {"type": "text", "text": "Model:\u00a0 SMAR", "font": "Liberation Sans", "fontSize": 11.5, "fontWeight": "bold", "align": "left", "baseline": "middle", "color": "black"},
          "encoding": {"x": {"datum": 8.07, "type": "quantitative"}, "y": {"datum": 113.4, "type": "quantitative"}}
        },
        {
          "data": {"values": [{}]},
          "mark": {"type": "text", "text": "Routing type:\u00a0 Nash Gamma", "font": "Liberation Sans", "fontSize": 10.5, "align": "left", "baseline": "middle", "color": "black"},
          "encoding": {"x": {"datum": 4.7, "type": "quantitative"}, "y": {"datum": 102.6, "type": "quantitative"}}
        }
      ]
    }
  ]
}
